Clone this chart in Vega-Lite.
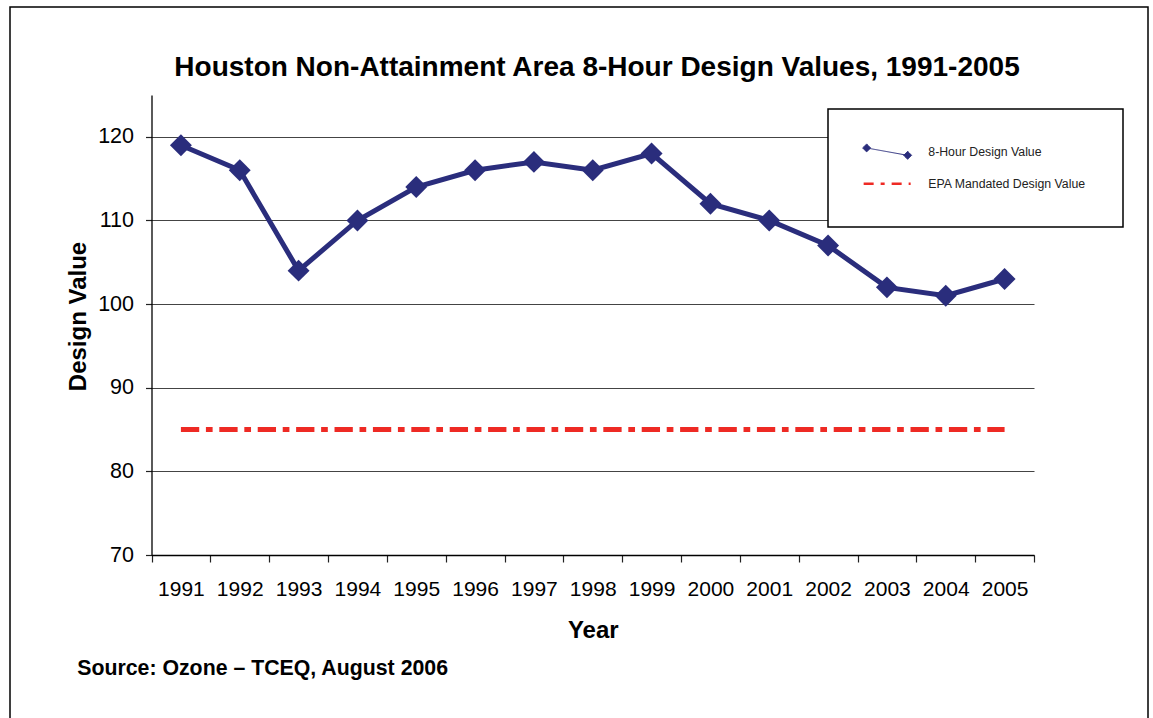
{
  "$schema": "https://vega.github.io/schema/vega-lite/v6.json",
  "width": 1138,
  "height": 715,
  "autosize": "none",
  "padding": {"left": 10, "top": 7, "right": 5, "bottom": 0},
  "background": "white",
  "config": {
    "font": "Liberation Sans",
    "view": {"stroke": "black", "strokeWidth": 1.5}
  },
  "title": {
    "text": "Houston Non-Attainment Area 8-Hour Design Values, 1991-2005",
    "fontSize": 28,
    "fontWeight": "bold",
    "color": "black",
    "anchor": "middle",
    "frame": "group",
    "baseline": "alphabetic",
    "offset": -97,
    "dx": 18
  },
  "datasets": {
    "main": [
      {"year": 1991, "value": 119, "series": "8-Hour Design Value"},
      {"year": 1992, "value": 116, "series": "8-Hour Design Value"},
      {"year": 1993, "value": 104, "series": "8-Hour Design Value"},
      {"year": 1994, "value": 110, "series": "8-Hour Design Value"},
      {"year": 1995, "value": 114, "series": "8-Hour Design Value"},
      {"year": 1996, "value": 116, "series": "8-Hour Design Value"},
      {"year": 1997, "value": 117, "series": "8-Hour Design Value"},
      {"year": 1998, "value": 116, "series": "8-Hour Design Value"},
      {"year": 1999, "value": 118, "series": "8-Hour Design Value"},
      {"year": 2000, "value": 112, "series": "8-Hour Design Value"},
      {"year": 2001, "value": 110, "series": "8-Hour Design Value"},
      {"year": 2002, "value": 107, "series": "8-Hour Design Value"},
      {"year": 2003, "value": 102, "series": "8-Hour Design Value"},
      {"year": 2004, "value": 101, "series": "8-Hour Design Value"},
      {"year": 2005, "value": 103, "series": "8-Hour Design Value"}
    ],
    "epa": [
      {"year": 1991, "value": 85, "series": "EPA Mandated Design Value"},
      {"year": 2005, "value": 85, "series": "EPA Mandated Design Value"}
    ]
  },
  "layer": [
    {
      "data": {"name": "main"},
      "mark": {
        "type": "line",
        "strokeWidth": 5,
        "opacity": 1,
        "point": {"filled": true, "shape": "diamond", "size": 480, "opacity": 1}
      },
      "encoding": {
        "x": {
          "field": "year",
          "type": "quantitative",
          "scale": {"domain": [1990.5, 2005.5], "range": [141.5, 1024], "nice": false, "zero": false},
          "axis": {
            "orient": "bottom",
            "offset": -167,
            "values": [1990.5, 1991.5, 1992.5, 1993.5, 1994.5, 1995.5, 1996.5, 1997.5, 1998.5, 1999.5, 2000.5, 2001.5, 2002.5, 2003.5, 2004.5, 2005.5],
            "labelExpr": "datum.value < 2005 ? toString(round(datum.value + 0.5)) : ''",
            "labelOffset": 29.4,
            "labelFlush": false,
            "labelOverlap": false,
            "labelBound": false,
            "labelFontSize": 21,
            "labelColor": "black",
            "labelPadding": 16,
            "tickSize": 7,
            "tickColor": "#222",
            "tickWidth": 1.2,
            "domainColor": "black",
            "domainWidth": 1.3,
            "grid": false,
            "title": "Year",
            "titleFontSize": 24,
            "titleFontWeight": "bold",
            "titleColor": "black",
            "titleBaseline": "alphabetic",
            "titleY": 82
          }
        },
        "y": {
          "field": "value",
          "type": "quantitative",
          "scale": {"domain": [70, 125], "range": [548, 88], "nice": false, "zero": false},
          "axis": {
            "orient": "left",
            "offset": -141.5,
            "values": [70, 80, 90, 100, 110, 120],
            "labelFontSize": 21.5,
            "labelColor": "black",
            "labelPadding": 12,
            "tickSize": 6,
            "tickColor": "#222",
            "tickWidth": 1.2,
            "domainColor": "black",
            "domainWidth": 1.3,
            "grid": true,
            "gridColor": "#444",
            "gridWidth": 1.2,
            "title": "Design Value",
            "titleFontSize": 24,
            "titleFontWeight": "bold",
            "titleColor": "black",
            "titleAngle": 270,
            "titleBaseline": "alphabetic",
            "titleX": -66,
            "titleY": 309
          }
        },
        "color": {
          "field": "series",
          "type": "nominal",
          "scale": {
            "domain": ["8-Hour Design Value", "EPA Mandated Design Value"],
            "range": ["#2A2D7C", "#EE2A24"]
          },
          "legend": {
            "orient": "none",
            "legendX": 818,
            "legendY": 102,
            "title": null,
            "strokeColor": "black",
            "fillColor": "white",
            "padding": 36.5,
            "symbolSize": 100,
            "symbolOffset": 16.5,
            "labelOffset": 35,
            "rowPadding": 16,
            "labelFontSize": 12.3,
            "labelColor": "#222",
            "symbolOpacity": 1,
            "encode": {
              "legend": {"update": {"strokeWidth": {"value": 1.5}}},
              "symbols": {
                "update": {
                  "shape": {"signal": "datum.value == 'EPA Mandated Design Value' ? 'M-4.7,0L4.7,0' : 'M-4.1,-0.74L4.1,0.74M-4.1,-1.54L-3.3,-0.74L-4.1,0.06L-4.9,-0.74ZM4.1,-0.06L4.9,0.74L4.1,1.54L3.3,0.74Z'"},
                  "fill": {"signal": "datum.value == 'EPA Mandated Design Value' ? 'transparent' : '#2A2D7C'"},
                  "stroke": {"signal": "datum.value == 'EPA Mandated Design Value' ? '#EE2A24' : '#2A2D7C'"},
                  "strokeWidth": {"signal": "datum.value == 'EPA Mandated Design Value' ? 2.5 : 1"},
                  "strokeDash": {"signal": "datum.value == 'EPA Mandated Design Value' ? [10,7,4,7] : [1,0]"},
                  "opacity": {"value": 1}
                }
              }
            }
          }
        }
      }
    },
    {
      "data": {"name": "epa"},
      "mark": {"type": "line", "strokeWidth": 5, "strokeDash": [18.3, 6.7, 6.7, 6.7], "strokeCap": "butt", "opacity": 1},
      "encoding": {
        "x": {
          "field": "year",
          "type": "quantitative",
          "scale": {"domain": [1990.5, 2005.5], "range": [141.5, 1024], "nice": false, "zero": false},
          "axis": {
            "orient": "bottom",
            "offset": -167,
            "domain": false,
            "ticks": false,
            "labels": false,
            "grid": false,
            "title": "Source: Ozone – TCEQ, August 2006",
            "titleFontSize": 21.3,
            "titleFontWeight": "bold",
            "titleColor": "black",
            "titleAnchor": "start",
            "titleAlign": "left",
            "titleBaseline": "alphabetic",
            "titleX": 66.7,
            "titleY": 119
          }
        },
        "y": {"field": "value", "type": "quantitative"},
        "color": {"field": "series", "type": "nominal"}
      }
    }
  ],
  "resolve": {"axis": {"x": "independent"}}
}
